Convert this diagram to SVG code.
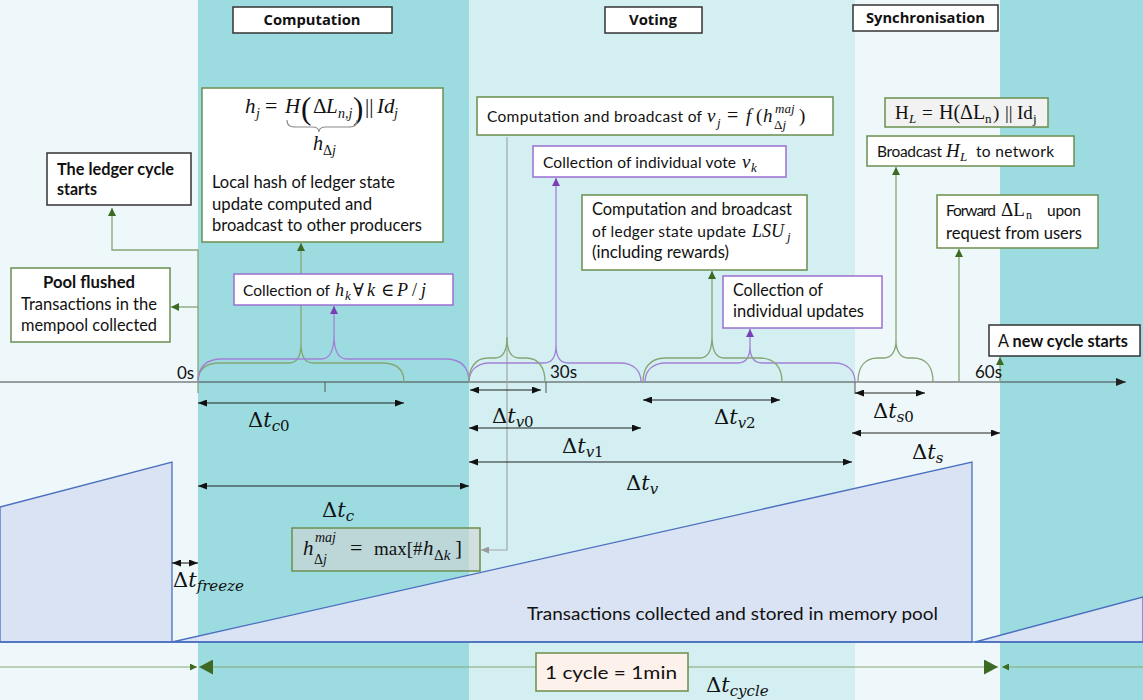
<svg xmlns="http://www.w3.org/2000/svg" width="1143" height="700" viewBox="0 0 1143 700">
<style>
.t{font-family:Lato,"Open Sans","Liberation Sans",sans-serif;font-size:17px;fill:#111;font-style:normal}
.tm{font-family:Lato,"Open Sans","Liberation Sans",sans-serif;font-size:15.5px;fill:#111;font-style:normal}
.b{font-weight:700}
.h{font-family:"Open Sans","Liberation Sans",sans-serif;font-size:13.5px;font-weight:700;fill:#111}
.mi{font-family:"Liberation Serif","DejaVu Serif",serif;font-style:italic;fill:#111}
.mr{font-family:"Liberation Serif","DejaVu Serif",serif;font-style:normal;fill:#111}
.dl{font-family:"DejaVu Serif","Liberation Serif",serif;font-size:21px;fill:#111}
.dl .i{font-style:italic}
.dl .s{font-size:15px}
.hb{fill:#fff;stroke:#333;stroke-width:1.5}
.gb{fill:#fff;stroke:#6b8e4f;stroke-width:1.5}
.pb{fill:#fff;stroke:#9a6fd0;stroke-width:1.5}
.db{fill:#fff;stroke:#333;stroke-width:1.5}
.gl{fill:none;stroke:#86a575;stroke-width:1.3}
.pl{fill:none;stroke:#a381d6;stroke-width:1.3}
.kl{fill:none;stroke:#222;stroke-width:1.1;marker-start:url(#ak);marker-end:url(#ak)}
.pool{fill:#dae3f3;stroke:#4a6fbf;stroke-width:1.3}
</style>
<defs>
<marker id="ag" viewBox="0 0 10 10" refX="10" refY="5" markerWidth="8" markerHeight="8" markerUnits="userSpaceOnUse" orient="auto"><path d="M0,0L10,5L0,10z" fill="#3d6a22"/></marker>
<marker id="ap" viewBox="0 0 10 10" refX="10" refY="5" markerWidth="8" markerHeight="8" markerUnits="userSpaceOnUse" orient="auto"><path d="M0,0L10,5L0,10z" fill="#7b3fb5"/></marker>
<marker id="agr" viewBox="0 0 10 10" refX="10" refY="5" markerWidth="8" markerHeight="7" markerUnits="userSpaceOnUse" orient="auto" preserveAspectRatio="none"><path d="M0,0L10,5L0,10z" fill="#999"/></marker>
<marker id="ak" viewBox="0 0 10 10" refX="10" refY="5" markerWidth="9" markerHeight="7" markerUnits="userSpaceOnUse" orient="auto-start-reverse" preserveAspectRatio="none"><path d="M0,0L10,5L0,10z" fill="#111"/></marker>
<marker id="aax" viewBox="0 0 10 10" refX="10" refY="5" markerWidth="10" markerHeight="8" markerUnits="userSpaceOnUse" orient="auto" preserveAspectRatio="none"><path d="M0,0L10,5L0,10z" fill="#222"/></marker>
<marker id="abig" viewBox="0 0 10 10" refX="10" refY="5" markerWidth="14" markerHeight="15" markerUnits="userSpaceOnUse" orient="auto-start-reverse" preserveAspectRatio="none"><path d="M0,0L10,5L0,10z" fill="#3d6a22"/></marker>
<marker id="asm" viewBox="0 0 10 10" refX="10" refY="5" markerWidth="7" markerHeight="7" markerUnits="userSpaceOnUse" orient="auto"><path d="M0,0L10,5L0,10z" fill="#3d6a22"/></marker>
</defs>

<g id="background">
<rect x="0" y="0" width="198" height="700" fill="#eef8fa"/>
<rect x="198" y="0" width="271" height="700" fill="#9cdce0"/>
<rect x="469" y="0" width="386" height="700" fill="#d3eff1"/>
<rect x="855" y="0" width="145" height="700" fill="#eef8fa"/>
<rect x="1000" y="0" width="143" height="700" fill="#9cdce0"/>
</g>

<g id="mempool">
<path class="pool" d="M0,507L172,462L172,642L0,642Z"/>
<path class="pool" d="M172,642L972,462L972,642Z"/>
<path class="pool" d="M975,642L1143,597L1143,642Z"/>
<path d="M0,642L1143,642" stroke="#4a6fbf" stroke-width="1.3"/>
<text class="t" x="527" y="620" font-size="18" textLength="411" lengthAdjust="spacingAndGlyphs">Transactions collected and stored in memory pool</text>
</g>

<g id="connectors">
<path d="M0,382L1126,382" stroke="#444" stroke-width="1.2" marker-end="url(#aax)"/>
<path d="M325,382L325,392M546,382L546,393M855,382L855,394" stroke="#555" stroke-width="1"/>
<path class="gl" d="M198,393L198,250L112,250L112,208" marker-end="url(#ag)"/>
<path class="gl" d="M198,307L171,307" marker-end="url(#ag)"/>
<path class="gl" d="M198,382C198,370 204,363 220,363L289,363C297,363 301,356 301,343C301,356 305,363 313,363L382,363C398,363 404,370 404,382"/>
<path class="gl" d="M301,343L301,243" marker-end="url(#ag)"/>
<path class="pl" d="M198,382C198,368 205,359 222,359L321,359C330,359 334,351 334,335C334,351 338,359 347,359L445,359C462,359 469,368 469,382"/>
<path class="pl" d="M334,335L334,306" marker-end="url(#ap)"/>
<path d="M507,137L507,550L481,550" fill="none" stroke="#a5a5a5" stroke-width="1.2" marker-end="url(#agr)"/>
<path class="pl" d="M469,382C469,371 476,363 490,363L544,363C552,363 556,357 556,345C556,357 560,363 568,363L620,363C634,363 641,371 641,382"/>
<path class="pl" d="M556,345L556,178" marker-end="url(#ap)"/>
<path class="gl" d="M469,382C469,368 475,358 488,358L495,358C503,358 507,350 507,337C507,350 511,358 519,358L526,358C539,358 545,368 545,382"/>
<path class="pl" d="M645,382C645,371 652,363 666,363L738,363C746,363 750,357 750,346C750,357 754,363 762,363L834,363C848,363 855,371 855,382"/>
<path class="pl" d="M750,346L750,329" marker-end="url(#ap)"/>
<path class="gl" d="M643,382C643,368 650,358 665,358L700,358C708,358 712,350 712,336C712,350 716,358 724,358L760,358C775,358 782,368 782,382"/>
<path class="gl" d="M712,336L712,271" marker-end="url(#ag)"/>
<path class="gl" d="M858,382C858,368 864,358 878,358L884,358C892,358 896,350 896,341C896,350 900,358 908,358L913,358C927,358 933,368 933,382"/>
<path class="gl" d="M896,341L896,167" marker-end="url(#ag)"/>
<path class="gl" d="M959,382L959,249" marker-end="url(#ag)"/>
<path class="gl" d="M1000,382L1000,357" marker-end="url(#ag)"/>
<path class="kl" d="M198,403L404,403"/>
<path class="kl" d="M198,486L469,486"/>
<path class="kl" d="M172,563L198,563"/>
<path class="kl" d="M470,390L541,390"/>
<path class="kl" d="M469,428L641,428"/>
<path class="kl" d="M469,462L852,462"/>
<path class="kl" d="M643,400L780,400"/>
<path class="kl" d="M855,393L925,393"/>
<path class="kl" d="M852,433L1000,433"/>
<path d="M0,667L197,667" stroke="#86a575" stroke-width="1.2" marker-end="url(#asm)"/>
<path d="M199,667L998,667" stroke="#86a575" stroke-width="1.2" marker-start="url(#abig)" marker-end="url(#abig)"/>
<path d="M1143,667L1002,667" stroke="#86a575" stroke-width="1.2" marker-end="url(#asm)"/>
</g>

<g id="hdr-computation"><rect class="hb" x="233" y="7" width="159" height="26"/><text class="h" x="312" y="25" text-anchor="middle" textLength="97" lengthAdjust="spacingAndGlyphs">Computation</text></g>
<g id="hdr-voting"><rect class="hb" x="605" y="7" width="97" height="26"/><text class="h" x="653" y="25" text-anchor="middle" textLength="48" lengthAdjust="spacingAndGlyphs">Voting</text></g>
<g id="hdr-sync"><rect class="hb" x="853" y="5" width="145" height="26"/><text class="h" x="925.5" y="23" text-anchor="middle" textLength="119" lengthAdjust="spacingAndGlyphs">Synchronisation</text></g>

<g id="node-ledger-start"><rect class="db" x="47" y="153" width="144" height="52"/>
<text class="t b" x="57" y="175" textLength="117" lengthAdjust="spacingAndGlyphs">The ledger cycle</text>
<text class="t b" x="57" y="195" textLength="40" lengthAdjust="spacingAndGlyphs">starts</text></g>

<g id="node-local-hash"><rect class="gb" x="202" y="88" width="241" height="154"/>
<text class="mi" font-size="21" y="113"><tspan x="245">h</tspan><tspan x="256" y="118" font-size="14">j</tspan><tspan class="mr" x="265" y="113" font-size="22">=</tspan><tspan x="285" y="113">H</tspan><tspan class="mr" x="301" y="119" font-size="31">(</tspan><tspan class="mr" x="313" y="113">Δ</tspan><tspan x="326" y="113">L</tspan><tspan x="338" y="118" font-size="14">n,j</tspan><tspan class="mr" x="353" y="119" font-size="31">)</tspan><tspan class="mr" x="365" y="113">||</tspan><tspan x="377" y="113">Id</tspan><tspan x="394" y="118" font-size="14">j</tspan></text>
<path d="M287,120C287,126 290,127 297,127L312,127C317,127 319,129 319,132C319,129 321,127 326,127L347,127C354,127 357,126 357,120" fill="none" stroke="#8a8a8a" stroke-width="1.1"/>
<text class="mi" font-size="20" y="150"><tspan x="313">h</tspan><tspan x="323" y="155" font-size="14"><tspan class="mr">Δ</tspan>j</tspan></text>
<text class="t" x="212" y="188" textLength="183" lengthAdjust="spacingAndGlyphs">Local hash of ledger state</text>
<text class="t" x="212" y="210" textLength="160" lengthAdjust="spacingAndGlyphs">update computed and</text>
<text class="t" x="212" y="231" textLength="210" lengthAdjust="spacingAndGlyphs">broadcast to other producers</text></g>

<g id="node-pool-flushed"><rect class="gb" x="11" y="268" width="159" height="74"/>
<text class="t b" x="89" y="288" text-anchor="middle" textLength="92" lengthAdjust="spacingAndGlyphs">Pool flushed</text>
<text class="t" x="21" y="310" textLength="136" lengthAdjust="spacingAndGlyphs">Transactions in the</text>
<text class="t" x="21" y="331" textLength="136" lengthAdjust="spacingAndGlyphs">mempool collected</text></g>

<g id="node-collect-hk"><rect class="pb" x="234" y="274" width="219" height="31"/>
<text y="296"><tspan class="tm" x="243" textLength="87" lengthAdjust="spacing">Collection of</tspan><tspan class="mi" font-size="18" x="335">h</tspan><tspan class="mi" x="345" y="300" font-size="13">k</tspan><tspan class="mr" font-size="18" x="353" y="296">∀</tspan><tspan class="mi" font-size="18" x="367" y="296">k</tspan><tspan class="mr" font-size="18" x="381" y="296">∈</tspan><tspan class="mi" font-size="18" x="397" y="296">P</tspan><tspan class="mr" font-size="18" x="412" y="296">/</tspan><tspan class="mi" font-size="18" x="421" y="296">j</tspan></text></g>

<g id="node-vote-compute"><rect class="gb" x="477" y="97" width="356" height="38"/>
<text y="122"><tspan class="tm" x="487" textLength="215" lengthAdjust="spacing">Computation and broadcast of</tspan><tspan class="mi" font-size="19" x="707">v</tspan><tspan class="mi" x="717" y="127" font-size="13">j</tspan><tspan class="mr" x="727" y="122" font-size="20">=</tspan><tspan class="mi" font-size="19" x="746" y="122">f</tspan><tspan class="mr" font-size="19" x="756" y="122">(</tspan><tspan class="mi" font-size="19" x="763" y="122">h</tspan><tspan class="mi" x="775" y="113" font-size="13">maj</tspan><tspan class="mi" x="774" y="129" font-size="13"><tspan class="mr">Δ</tspan>j</tspan><tspan class="mr" font-size="19" x="799" y="122">)</tspan></text></g>

<g id="node-vote-collect"><rect class="pb" x="533" y="146" width="253" height="31"/>
<text y="168"><tspan class="tm" x="543" textLength="193" lengthAdjust="spacing">Collection of individual vote</tspan><tspan class="mi" font-size="19" x="742">v</tspan><tspan class="mi" x="751" y="172" font-size="13">k</tspan></text></g>

<g id="node-lsu"><rect class="gb" x="582" y="195" width="225" height="75"/>
<text class="t" x="592" y="215" textLength="200" lengthAdjust="spacingAndGlyphs">Computation and broadcast</text>
<text y="237"><tspan class="tm" x="592" textLength="154" lengthAdjust="spacing">of ledger state update</tspan><tspan class="mi" font-size="18" x="752">LSU</tspan><tspan class="mi" x="787" y="241" font-size="13">j</tspan></text>
<text class="t" x="592" y="258" textLength="137" lengthAdjust="spacingAndGlyphs">(including rewards)</text></g>

<g id="node-updates-collect"><rect class="pb" x="723" y="276" width="159" height="52"/>
<text class="t" x="733" y="296" textLength="90" lengthAdjust="spacingAndGlyphs">Collection of</text>
<text class="t" x="733" y="317" textLength="131" lengthAdjust="spacingAndGlyphs">individual updates</text></g>

<g id="node-hl"><rect x="885" y="98" width="163" height="29" fill="#f2f2f2" stroke="#6b8e4f" stroke-width="1.5"/>
<text class="mr" font-size="19" y="119"><tspan x="895">H</tspan><tspan class="mi" x="909" y="123" font-size="13">L</tspan><tspan x="922" y="119">=</tspan><tspan x="939" y="119" font-size="20">H(ΔL</tspan><tspan x="985" y="123" font-size="13">n</tspan><tspan x="993" y="119">)</tspan><tspan x="1005" y="119">||</tspan><tspan x="1017" y="119">Id</tspan><tspan x="1033" y="123" font-size="13">j</tspan></text></g>

<g id="node-broadcast"><rect class="gb" x="867" y="136" width="207" height="30"/>
<text y="157"><tspan class="tm" x="877" textLength="65" lengthAdjust="spacing">Broadcast</tspan><tspan class="mi" font-size="19" x="946">H</tspan><tspan class="mi" x="960" y="161" font-size="13">L</tspan><tspan class="tm" x="976" y="157" textLength="78" lengthAdjust="spacing">to network</tspan></text></g>

<g id="node-forward"><rect class="gb" x="937" y="195" width="161" height="53"/>
<text y="216"><tspan class="tm" x="946" textLength="50" lengthAdjust="spacing">Forward</tspan><tspan class="mr" font-size="19" x="1001">ΔL</tspan><tspan class="mr" x="1026" y="219" font-size="12">n</tspan><tspan class="tm" x="1047" y="216" textLength="34" lengthAdjust="spacing">upon</tspan></text>
<text class="t" x="946" y="239" textLength="136" lengthAdjust="spacingAndGlyphs">request from users</text></g>

<g id="node-new-cycle"><rect class="db" x="989" y="325" width="151" height="31"/>
<text class="t" x="998" y="347" textLength="130" lengthAdjust="spacingAndGlyphs">A <tspan class="b">new cycle starts</tspan></text></g>

<g id="node-hmaj"><rect x="292" y="528" width="188" height="43" fill="#d4d4d4" fill-opacity="0.6" stroke="#6b8e4f" stroke-width="1.5"/>
<text class="mi" font-size="21" y="555"><tspan x="303">h</tspan><tspan x="315" y="542" font-size="14">maj</tspan><tspan x="314" y="564" font-size="14"><tspan class="mr">Δ</tspan>j</tspan><tspan class="mr" x="350" y="555" font-size="22">=</tspan><tspan class="mr" x="374" y="555" font-size="19">max[#</tspan><tspan x="423" y="555">h</tspan><tspan x="434" y="560" font-size="15"><tspan class="mr">Δ</tspan>k</tspan><tspan class="mr" x="455" y="555">]</tspan></text></g>

<g id="node-cycle"><rect x="536" y="653" width="152" height="38" fill="#fdf1ec" stroke="#6b8e4f" stroke-width="1.5"/>
<text class="t" x="545" y="679" font-size="22" textLength="132" lengthAdjust="spacingAndGlyphs">1 cycle = 1min</text></g>

<g id="time-labels">
<text class="t" x="177" y="379" font-size="13">0s</text>
<text class="t" x="550" y="378" font-size="13">30s</text>
<text class="t" x="975" y="378" font-size="13">60s</text>
<text class="dl" x="248" y="427">Δ<tspan class="i">t</tspan><tspan class="s i" dy="4">c</tspan><tspan class="s">0</tspan></text>
<text class="dl" x="322" y="517">Δ<tspan class="i">t</tspan><tspan class="s i" dy="4">c</tspan></text>
<text class="dl" x="173" y="587">Δ<tspan class="i">t</tspan><tspan class="s i" dy="4">freeze</tspan></text>
<text class="dl" x="492" y="423">Δ<tspan class="i">t</tspan><tspan class="s i" dy="4">v</tspan><tspan class="s">0</tspan></text>
<text class="dl" x="562" y="453">Δ<tspan class="i">t</tspan><tspan class="s i" dy="4">v</tspan><tspan class="s">1</tspan></text>
<text class="dl" x="626" y="490">Δ<tspan class="i">t</tspan><tspan class="s i" dy="4">v</tspan></text>
<text class="dl" x="714" y="424">Δ<tspan class="i">t</tspan><tspan class="s i" dy="4">v</tspan><tspan class="s">2</tspan></text>
<text class="dl" x="873" y="418">Δ<tspan class="i">t</tspan><tspan class="s i" dy="4">s</tspan><tspan class="s">0</tspan></text>
<text class="dl" x="912" y="459">Δ<tspan class="i">t</tspan><tspan class="s i" dy="4">s</tspan></text>
<text class="dl" x="706" y="692">Δ<tspan class="i">t</tspan><tspan class="s i" dy="4">cycle</tspan></text>
</g>
</svg>
